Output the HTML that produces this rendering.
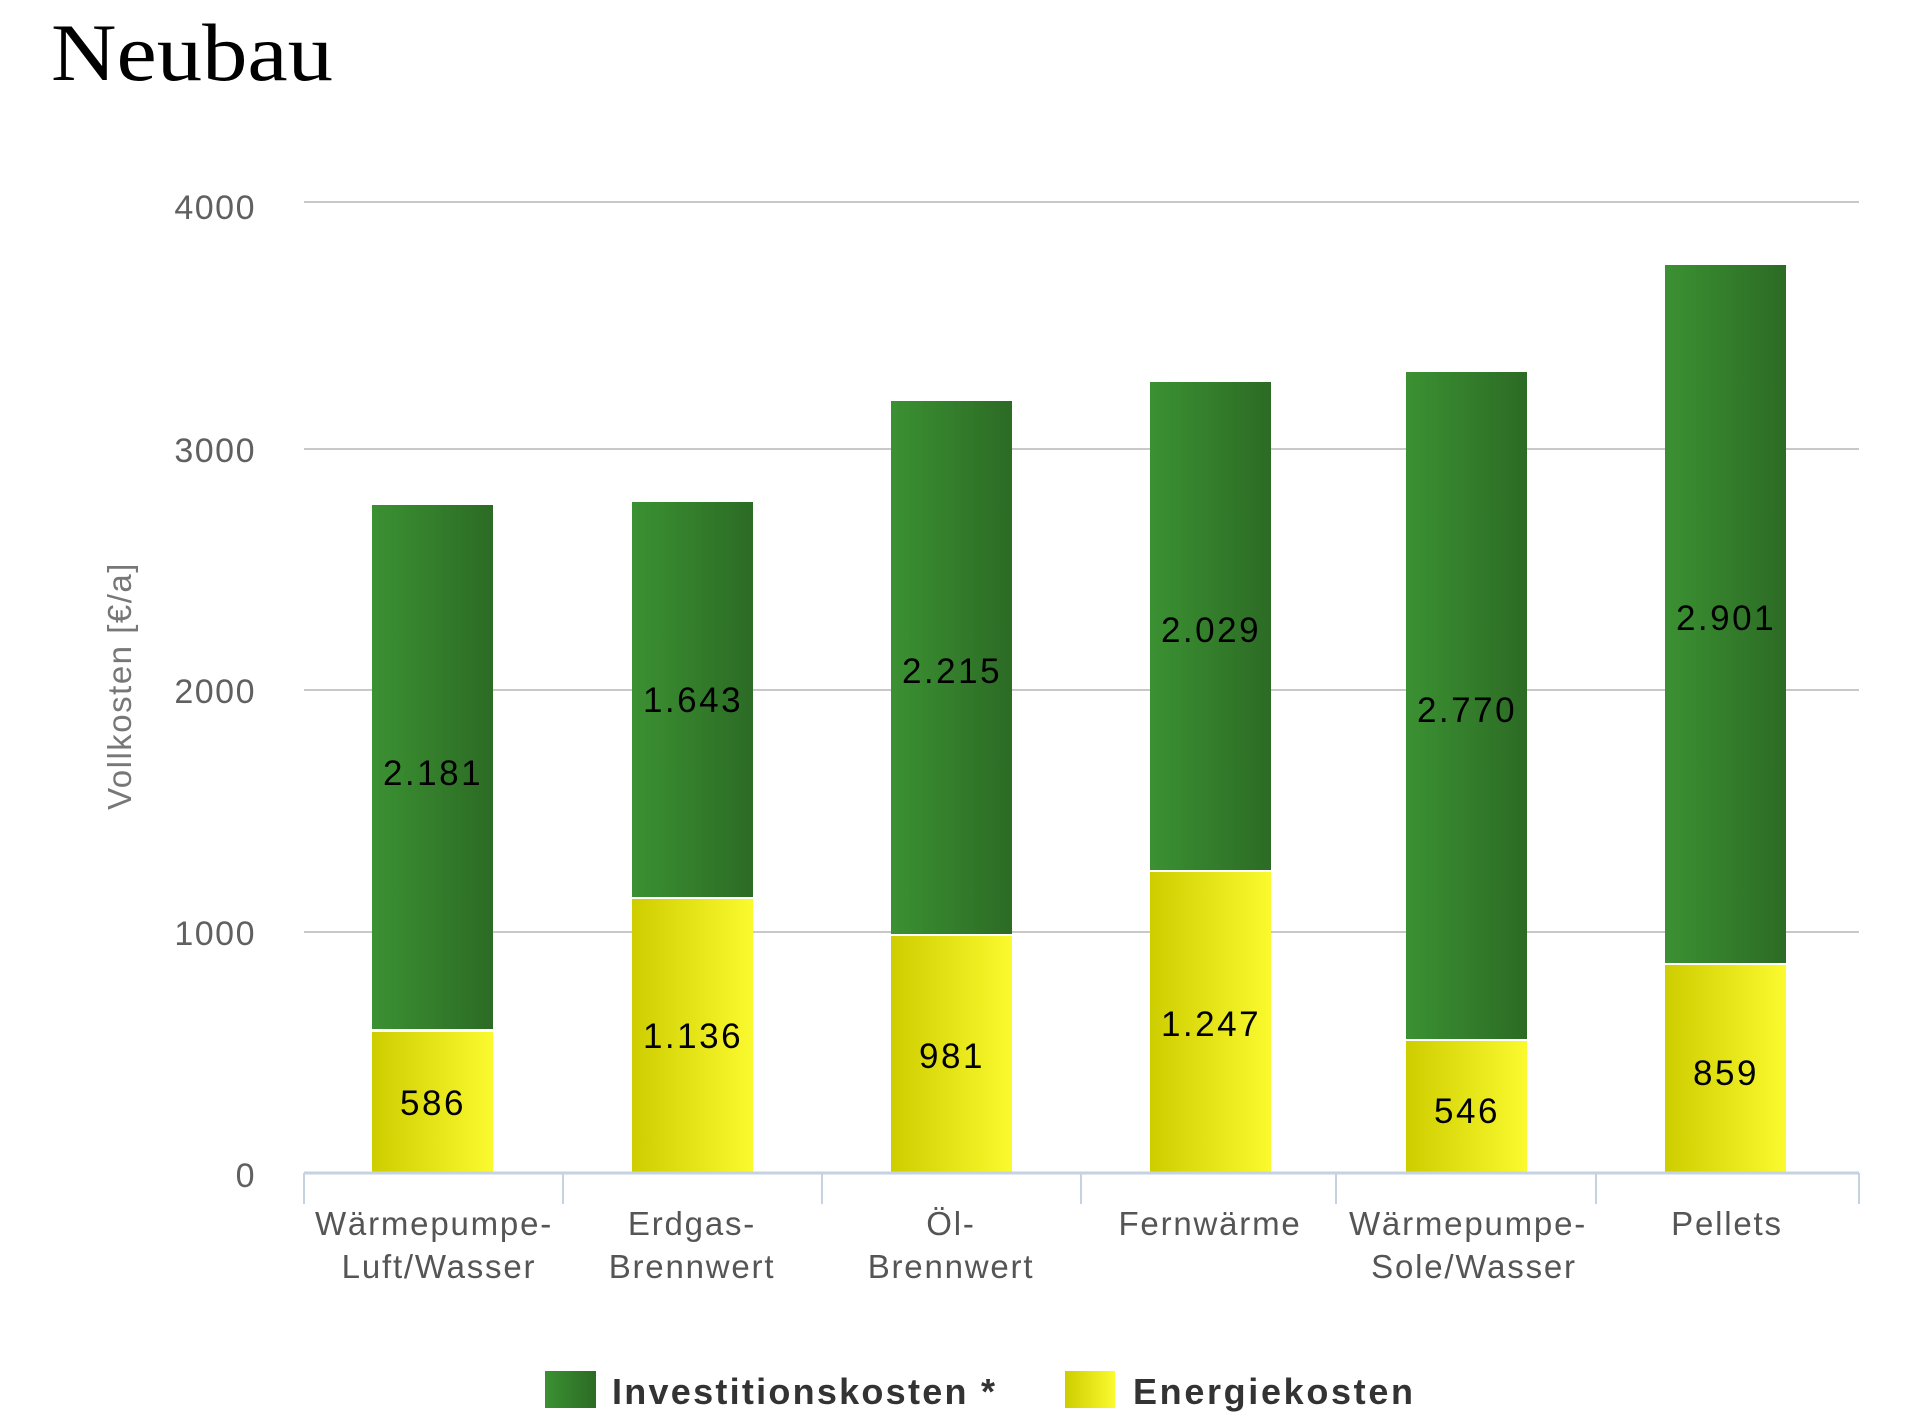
<!DOCTYPE html>
<html><head><meta charset="utf-8"><style>
html,body{margin:0;padding:0;background:#fff;width:1920px;height:1419px;overflow:hidden}
svg{display:block}
</style></head><body>
<svg width="1920" height="1419" viewBox="0 0 1920 1419" xmlns="http://www.w3.org/2000/svg">
<defs>
<linearGradient id="g" x1="0" x2="1" y1="0" y2="0"><stop offset="0" stop-color="#3b9132"/><stop offset="1" stop-color="#2c6b25"/></linearGradient>
<linearGradient id="y" x1="0" x2="1" y1="0" y2="0"><stop offset="0" stop-color="#cdcd00"/><stop offset="1" stop-color="#fafa2e"/></linearGradient>
</defs>
<text x="51" y="80" font-family="Liberation Serif, serif" font-size="82" fill="#000" textLength="282" lengthAdjust="spacingAndGlyphs">Neubau</text>
<g stroke="#c8c8c8" stroke-width="2">
<line x1="304" x2="1859" y1="202" y2="202"/>
<line x1="304" x2="1859" y1="449" y2="449"/>
<line x1="304" x2="1859" y1="690" y2="690"/>
<line x1="304" x2="1859" y1="932" y2="932"/>
</g>
<g font-family="Liberation Sans, sans-serif" font-size="34" fill="#606060" text-anchor="end" letter-spacing="1.5">
<text x="256" y="219">4000</text>
<text x="256" y="462">3000</text>
<text x="256" y="703">2000</text>
<text x="256" y="945">1000</text>
<text x="256" y="1187">0</text>
</g>
<text transform="translate(131,686) rotate(-90)" font-family="Liberation Sans, sans-serif" font-size="33" fill="#777" text-anchor="middle" letter-spacing="1.5">Vollkosten [€/a]</text>
<g>
<rect x="372" y="505" width="121" height="524" fill="url(#g)"/><rect x="372" y="1032" width="121" height="141" fill="url(#y)"/>
<rect x="632" y="502" width="121" height="395" fill="url(#g)"/><rect x="632" y="899" width="121" height="274" fill="url(#y)"/>
<rect x="891" y="401" width="121" height="533" fill="url(#g)"/><rect x="891" y="936" width="121" height="237" fill="url(#y)"/>
<rect x="1150" y="382" width="121" height="488" fill="url(#g)"/><rect x="1150" y="872" width="121" height="301" fill="url(#y)"/>
<rect x="1406" y="372" width="121" height="667" fill="url(#g)"/><rect x="1406" y="1041" width="121" height="132" fill="url(#y)"/>
<rect x="1665" y="265" width="121" height="698" fill="url(#g)"/><rect x="1665" y="965" width="121" height="208" fill="url(#y)"/>
</g>
<g font-family="Liberation Sans, sans-serif" font-size="35" fill="#000" text-anchor="middle" letter-spacing="2.5">
<text x="433" y="785">2.181</text><text x="433" y="1115">586</text>
<text x="693" y="712">1.643</text><text x="693" y="1048">1.136</text>
<text x="952" y="683">2.215</text><text x="952" y="1068">981</text>
<text x="1211" y="642">2.029</text><text x="1211" y="1036">1.247</text>
<text x="1467" y="722">2.770</text><text x="1467" y="1123">546</text>
<text x="1726" y="630">2.901</text><text x="1726" y="1085">859</text>
</g>
<line x1="304" x2="1859" y1="1173" y2="1173" stroke="#c4d2e2" stroke-width="3"/>
<g stroke="#c4d2e2" stroke-width="2">
<line x1="304" x2="304" y1="1173" y2="1204"/><line x1="563" x2="563" y1="1173" y2="1204"/>
<line x1="822" x2="822" y1="1173" y2="1204"/><line x1="1081" x2="1081" y1="1173" y2="1204"/>
<line x1="1336" x2="1336" y1="1173" y2="1204"/><line x1="1596" x2="1596" y1="1173" y2="1204"/>
<line x1="1859" x2="1859" y1="1173" y2="1204"/>
</g>
<g font-family="Liberation Sans, sans-serif" font-size="33" fill="#555" text-anchor="middle" letter-spacing="1.8">
<text x="434" y="1235">Wärmepumpe-</text><text x="439" y="1278">Luft/Wasser</text>
<text x="692" y="1235">Erdgas-</text><text x="692" y="1278">Brennwert</text>
<text x="951" y="1235">Öl-</text><text x="951" y="1278">Brennwert</text>
<text x="1210" y="1235">Fernwärme</text>
<text x="1468" y="1235">Wärmepumpe-</text><text x="1474" y="1278">Sole/Wasser</text>
<text x="1727" y="1235">Pellets</text>
</g>
<rect x="545" y="1371" width="51" height="37" fill="url(#g)"/>
<text x="612" y="1404" font-family="Liberation Sans, sans-serif" font-size="36" font-weight="bold" fill="#333" textLength="383" lengthAdjust="spacing">Investitionskosten *</text>
<rect x="1065" y="1371" width="50" height="37" fill="url(#y)"/>
<text x="1133" y="1404" font-family="Liberation Sans, sans-serif" font-size="36" font-weight="bold" fill="#333" textLength="280" lengthAdjust="spacing">Energiekosten</text>
</svg>
</body></html>
